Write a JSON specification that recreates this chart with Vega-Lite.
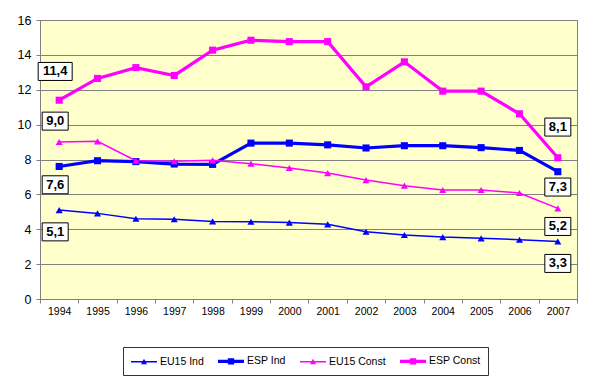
{
  "$schema": "https://vega.github.io/schema/vega-lite/v6.json",
  "width": 537,
  "height": 279,
  "autosize": {"type": "none"},
  "padding": {"left": 40, "top": 20, "right": 16, "bottom": 79},
  "background": "white",
  "config": {
    "view": {"fill": "#FFFFCC", "stroke": "#808080", "strokeWidth": 1},
    "font": "Liberation Sans",
    "axis": {"labelFont": "Liberation Sans", "labelColor": "#000000", "domainColor": "#808080", "tickColor": "#808080", "gridColor": "#808080", "gridOpacity": 1}
  },
  "datasets": {
    "series": [
      {"year": 1994, "series": "EU15 Ind", "value": 5.1},
      {"year": 1995, "series": "EU15 Ind", "value": 4.91},
      {"year": 1996, "series": "EU15 Ind", "value": 4.6},
      {"year": 1997, "series": "EU15 Ind", "value": 4.57},
      {"year": 1998, "series": "EU15 Ind", "value": 4.45},
      {"year": 1999, "series": "EU15 Ind", "value": 4.43},
      {"year": 2000, "series": "EU15 Ind", "value": 4.38},
      {"year": 2001, "series": "EU15 Ind", "value": 4.28},
      {"year": 2002, "series": "EU15 Ind", "value": 3.86},
      {"year": 2003, "series": "EU15 Ind", "value": 3.67},
      {"year": 2004, "series": "EU15 Ind", "value": 3.55},
      {"year": 2005, "series": "EU15 Ind", "value": 3.48},
      {"year": 2006, "series": "EU15 Ind", "value": 3.4},
      {"year": 2007, "series": "EU15 Ind", "value": 3.3},
      {"year": 1994, "series": "ESP Ind", "value": 7.6},
      {"year": 1995, "series": "ESP Ind", "value": 7.93},
      {"year": 1996, "series": "ESP Ind", "value": 7.88},
      {"year": 1997, "series": "ESP Ind", "value": 7.74},
      {"year": 1998, "series": "ESP Ind", "value": 7.72},
      {"year": 1999, "series": "ESP Ind", "value": 8.94},
      {"year": 2000, "series": "ESP Ind", "value": 8.94},
      {"year": 2001, "series": "ESP Ind", "value": 8.84},
      {"year": 2002, "series": "ESP Ind", "value": 8.66},
      {"year": 2003, "series": "ESP Ind", "value": 8.79},
      {"year": 2004, "series": "ESP Ind", "value": 8.79},
      {"year": 2005, "series": "ESP Ind", "value": 8.68},
      {"year": 2006, "series": "ESP Ind", "value": 8.52},
      {"year": 2007, "series": "ESP Ind", "value": 7.3},
      {"year": 1994, "series": "EU15 Const", "value": 9.0},
      {"year": 1995, "series": "EU15 Const", "value": 9.04},
      {"year": 1996, "series": "EU15 Const", "value": 7.93},
      {"year": 1997, "series": "EU15 Const", "value": 7.9},
      {"year": 1998, "series": "EU15 Const", "value": 7.95},
      {"year": 1999, "series": "EU15 Const", "value": 7.76},
      {"year": 2000, "series": "EU15 Const", "value": 7.51},
      {"year": 2001, "series": "EU15 Const", "value": 7.22},
      {"year": 2002, "series": "EU15 Const", "value": 6.82},
      {"year": 2003, "series": "EU15 Const", "value": 6.5},
      {"year": 2004, "series": "EU15 Const", "value": 6.25},
      {"year": 2005, "series": "EU15 Const", "value": 6.25},
      {"year": 2006, "series": "EU15 Const", "value": 6.08},
      {"year": 2007, "series": "EU15 Const", "value": 5.2},
      {"year": 1994, "series": "ESP Const", "value": 11.4},
      {"year": 1995, "series": "ESP Const", "value": 12.65},
      {"year": 1996, "series": "ESP Const", "value": 13.27},
      {"year": 1997, "series": "ESP Const", "value": 12.82},
      {"year": 1998, "series": "ESP Const", "value": 14.27},
      {"year": 1999, "series": "ESP Const", "value": 14.84},
      {"year": 2000, "series": "ESP Const", "value": 14.76},
      {"year": 2001, "series": "ESP Const", "value": 14.76},
      {"year": 2002, "series": "ESP Const", "value": 12.17},
      {"year": 2003, "series": "ESP Const", "value": 13.6},
      {"year": 2004, "series": "ESP Const", "value": 11.92},
      {"year": 2005, "series": "ESP Const", "value": 11.92},
      {"year": 2006, "series": "ESP Const", "value": 10.62},
      {"year": 2007, "series": "ESP Const", "value": 8.1}
    ],
    "labels": [
      {"year": 1994, "value": 13.05, "label": "11,4"},
      {"year": 1994, "value": 10.2, "label": "9,0"},
      {"year": 1994, "value": 6.55, "label": "7,6"},
      {"year": 1994, "value": 3.85, "label": "5,1"},
      {"year": 2007, "value": 9.86, "label": "8,1"},
      {"year": 2007, "value": 6.42, "label": "7,3"},
      {"year": 2007, "value": 4.16, "label": "5,2"},
      {"year": 2007, "value": 2.04, "label": "3,3"}
    ]
  },
  "data": {"name": "series"},
  "encoding": {
    "x": {"field": "year", "type": "ordinal",
      "scale": {"type": "band", "paddingInner": 0, "paddingOuter": 0},
      "axis": {"tickBand": "extent", "labelAngle": 0, "tickSize": 4, "labelPadding": 3, "labelFontSize": 10.5, "grid": false, "domain": true, "title": null}},
    "y": {"field": "value", "type": "quantitative", "scale": {"domain": [0, 16], "nice": false},
      "axis": {"values": [0, 2, 4, 6, 8, 10, 12, 14, 16], "labelOverlap": false, "grid": true, "tickSize": 4, "labelPadding": 5, "labelFontSize": 12.5, "title": null}}
  },
  "layer": [
    {
      "transform": [{"filter": "datum.series === 'EU15 Ind'"}],
      "mark": {"type": "line", "color": "#0000FF", "strokeWidth": 1.5, "point": {"shape": "triangle-up", "size": 50, "filled": true, "color": "#0000FF", "strokeWidth": 0}}
    },
    {
      "transform": [{"filter": "datum.series === 'ESP Ind'"}],
      "mark": {"type": "line", "color": "#0000FF", "strokeWidth": 3.2, "point": {"shape": "square", "size": 50, "filled": true, "color": "#0000FF", "strokeWidth": 0}}
    },
    {
      "transform": [{"filter": "datum.series === 'EU15 Const'"}],
      "mark": {"type": "line", "color": "#FF00FF", "strokeWidth": 1.5, "point": {"shape": "triangle-up", "size": 50, "filled": true, "color": "#FF00FF", "strokeWidth": 0}}
    },
    {
      "transform": [{"filter": "datum.series === 'ESP Const'"}],
      "mark": {"type": "line", "color": "#FF00FF", "strokeWidth": 3.2, "point": {"shape": "square", "size": 50, "filled": true, "color": "#FF00FF", "strokeWidth": 0}}
    },
    {
      "transform": [{"filter": "false"}],
      "mark": {"type": "point", "filled": true},
      "encoding": {
        "color": {"field": "series", "type": "nominal",
          "scale": {"domain": ["EU15 Ind", "ESP Ind", "EU15 Const", "ESP Const"], "range": ["#0000FF", "#0000FF", "#FF00FF", "#FF00FF"]},
          "legend": {"title": null, "orient": "none", "legendX": 83, "legendY": 327, "direction": "horizontal", "strokeColor": "#333333", "padding": 7, "symbolSize": 144, "labelFont": "Liberation Sans", "labelFontSize": 10.5, "labelColor": "#000000", "labelOffset": 16, "columnPadding": 2, "symbolOpacity": 1}},
        "shape": {"field": "series", "type": "nominal",
          "scale": {"domain": ["EU15 Ind", "ESP Ind", "EU15 Const", "ESP Const"],
            "range": [
              "M-2.5,0L-2.49,0.01L-2.5,0.02Z M-1,-0.125L3.33,-0.125L3.33,0.125L-1,0.125Z M0.667,0.45L1.167,-0.5L1.667,0.45Z",
              "M-2.5,0L-2.49,0.01L-2.5,0.02Z M-1,-0.27L3.33,-0.27L3.33,0.27L-1,0.27Z M0.637,-0.53L1.697,-0.53L1.697,0.53L0.637,0.53Z",
              "M-2.5,0L-2.49,0.01L-2.5,0.02Z M-1,-0.125L3.33,-0.125L3.33,0.125L-1,0.125Z M0.667,0.45L1.167,-0.5L1.667,0.45Z",
              "M-2.5,0L-2.49,0.01L-2.5,0.02Z M-1,-0.27L3.33,-0.27L3.33,0.27L-1,0.27Z M0.637,-0.53L1.697,-0.53L1.697,0.53L0.637,0.53Z"
            ]},
          "legend": {"title": null, "orient": "none", "legendX": 83, "legendY": 327, "direction": "horizontal", "strokeColor": "#333333", "padding": 7, "symbolSize": 144, "labelFont": "Liberation Sans", "labelFontSize": 10.5, "labelColor": "#000000", "labelOffset": 16, "columnPadding": 2, "symbolOpacity": 1}}
      }
    },
    {
      "data": {"name": "labels"},
      "transform": [{"filter": "datum.year == 1994"}],
      "mark": {"type": "point", "filled": true, "fill": "white", "stroke": "#000000", "strokeWidth": 1, "opacity": 1, "size": 400, "xOffset": -4},
      "encoding": {
        "shape": {"condition": {"test": "length(datum.label) > 3", "value": "M-1.7,-0.9L1.7,-0.9L1.7,0.9L-1.7,0.9Z"}, "value": "M-1.3,-0.9L1.3,-0.9L1.3,0.9L-1.3,0.9Z"}
      }
    },
    {
      "data": {"name": "labels"},
      "transform": [{"filter": "datum.year == 2007"}],
      "mark": {"type": "point", "filled": true, "fill": "white", "stroke": "#000000", "strokeWidth": 1, "opacity": 1, "size": 400},
      "encoding": {
        "shape": {"value": "M-1.3,-0.9L1.3,-0.9L1.3,0.9L-1.3,0.9Z"}
      }
    },
    {
      "data": {"name": "labels"},
      "transform": [{"filter": "datum.year == 1994"}],
      "mark": {"type": "text", "font": "Liberation Sans", "fontSize": 13, "fontWeight": "bold", "color": "#000000", "align": "center", "baseline": "middle", "dx": -4},
      "encoding": {
        "text": {"field": "label"}
      }
    },
    {
      "data": {"name": "labels"},
      "transform": [{"filter": "datum.year == 2007"}],
      "mark": {"type": "text", "font": "Liberation Sans", "fontSize": 13, "fontWeight": "bold", "color": "#000000", "align": "center", "baseline": "middle"},
      "encoding": {
        "text": {"field": "label"}
      }
    }
  ]
}
